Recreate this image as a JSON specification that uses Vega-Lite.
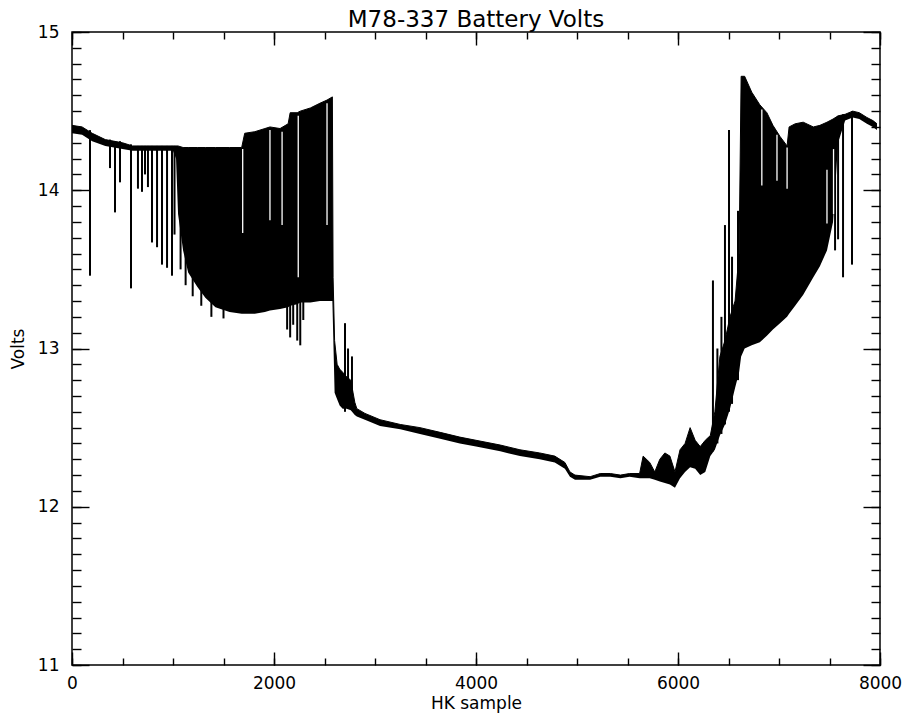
{
  "$schema": "https://vega.github.io/schema/vega-lite/v6.json",
  "width": 808,
  "height": 633,
  "autosize": {"type": "none"},
  "padding": {"left": 72, "top": 32, "right": 34, "bottom": 53},
  "background": "white",
  "title": {"text": "M78-337 Battery Volts", "font": "DejaVu Sans", "fontSize": 23, "fontWeight": "normal", "color": "black", "offset": -9, "anchor": "middle"},
  "config": {
    "view": {"stroke": "black", "strokeWidth": 1.5},
    "axis": {"grid": false, "domain": false, "tickColor": "black", "tickWidth": 1.4, "labelColor": "black", "titleColor": "black", "labelFont": "DejaVu Sans", "titleFont": "DejaVu Sans", "labelFontSize": 17, "titleFontSize": 17, "titleFontWeight": "normal", "labelOverlap": false, "labelFlush": false}
  },
  "datasets": {
    "env": [
      {"x": 0, "hi": 14.41, "lo": 14.36},
      {"x": 100, "hi": 14.40, "lo": 14.35},
      {"x": 200, "hi": 14.36, "lo": 14.31},
      {"x": 330, "hi": 14.32, "lo": 14.28},
      {"x": 500, "hi": 14.30, "lo": 14.26},
      {"x": 600, "hi": 14.28, "lo": 14.25},
      {"x": 1000, "hi": 14.28, "lo": 14.25},
      {"x": 1030, "hi": 14.28, "lo": 14.20},
      {"x": 1050, "hi": 14.28, "lo": 13.85},
      {"x": 1100, "hi": 14.27, "lo": 13.62},
      {"x": 1150, "hi": 14.27, "lo": 13.48},
      {"x": 1240, "hi": 14.27, "lo": 13.39},
      {"x": 1320, "hi": 14.27, "lo": 13.32},
      {"x": 1420, "hi": 14.27, "lo": 13.26},
      {"x": 1560, "hi": 14.27, "lo": 13.23},
      {"x": 1680, "hi": 14.27, "lo": 13.22},
      {"x": 1710, "hi": 14.36, "lo": 13.22},
      {"x": 1810, "hi": 14.37, "lo": 13.22},
      {"x": 1910, "hi": 14.39, "lo": 13.23},
      {"x": 1960, "hi": 14.40, "lo": 13.24},
      {"x": 2060, "hi": 14.39, "lo": 13.25},
      {"x": 2140, "hi": 14.42, "lo": 13.26},
      {"x": 2160, "hi": 14.49, "lo": 13.27},
      {"x": 2230, "hi": 14.49, "lo": 13.28},
      {"x": 2260, "hi": 14.50, "lo": 13.29},
      {"x": 2360, "hi": 14.52, "lo": 13.29},
      {"x": 2455, "hi": 14.55, "lo": 13.30},
      {"x": 2525, "hi": 14.57, "lo": 13.30},
      {"x": 2578, "hi": 14.59, "lo": 13.30},
      {"x": 2585, "hi": 13.45, "lo": 13.12},
      {"x": 2600, "hi": 13.05, "lo": 12.72},
      {"x": 2625, "hi": 12.90, "lo": 12.68},
      {"x": 2650, "hi": 12.87, "lo": 12.64},
      {"x": 2680, "hi": 12.85, "lo": 12.62},
      {"x": 2720, "hi": 12.82, "lo": 12.62},
      {"x": 2760, "hi": 12.80, "lo": 12.61},
      {"x": 2800, "hi": 12.66, "lo": 12.58},
      {"x": 2820, "hi": 12.62, "lo": 12.57},
      {"x": 2900, "hi": 12.59, "lo": 12.55},
      {"x": 3050, "hi": 12.55, "lo": 12.51},
      {"x": 3250, "hi": 12.52, "lo": 12.49},
      {"x": 3445, "hi": 12.50, "lo": 12.46},
      {"x": 3645, "hi": 12.47, "lo": 12.43},
      {"x": 3840, "hi": 12.44, "lo": 12.40},
      {"x": 4000, "hi": 12.42, "lo": 12.38},
      {"x": 4240, "hi": 12.39, "lo": 12.35},
      {"x": 4435, "hi": 12.36, "lo": 12.32},
      {"x": 4630, "hi": 12.34, "lo": 12.30},
      {"x": 4780, "hi": 12.32, "lo": 12.28},
      {"x": 4880, "hi": 12.28, "lo": 12.24},
      {"x": 4930, "hi": 12.22, "lo": 12.19},
      {"x": 4980, "hi": 12.20, "lo": 12.17},
      {"x": 5130, "hi": 12.19, "lo": 12.17},
      {"x": 5230, "hi": 12.21, "lo": 12.19},
      {"x": 5330, "hi": 12.21, "lo": 12.19},
      {"x": 5430, "hi": 12.20, "lo": 12.18},
      {"x": 5520, "hi": 12.21, "lo": 12.19},
      {"x": 5620, "hi": 12.21, "lo": 12.18},
      {"x": 5655, "hi": 12.32, "lo": 12.18},
      {"x": 5720, "hi": 12.28, "lo": 12.18},
      {"x": 5770, "hi": 12.22, "lo": 12.17},
      {"x": 5820, "hi": 12.30, "lo": 12.16},
      {"x": 5870, "hi": 12.34, "lo": 12.15},
      {"x": 5920, "hi": 12.32, "lo": 12.14},
      {"x": 5970, "hi": 12.22, "lo": 12.12},
      {"x": 6020, "hi": 12.36, "lo": 12.18},
      {"x": 6070, "hi": 12.40, "lo": 12.22},
      {"x": 6120, "hi": 12.50, "lo": 12.25},
      {"x": 6170, "hi": 12.42, "lo": 12.24},
      {"x": 6220, "hi": 12.38, "lo": 12.20},
      {"x": 6270, "hi": 12.42, "lo": 12.22},
      {"x": 6320, "hi": 12.45, "lo": 12.32},
      {"x": 6365, "hi": 12.60, "lo": 12.36},
      {"x": 6415, "hi": 12.95, "lo": 12.45},
      {"x": 6465, "hi": 13.05, "lo": 12.52},
      {"x": 6515, "hi": 13.20, "lo": 12.62},
      {"x": 6565, "hi": 13.30, "lo": 12.75},
      {"x": 6605, "hi": 13.60, "lo": 12.85},
      {"x": 6625, "hi": 14.72, "lo": 12.95},
      {"x": 6660, "hi": 14.72, "lo": 13.00},
      {"x": 6730, "hi": 14.62, "lo": 13.02},
      {"x": 6810, "hi": 14.54, "lo": 13.04},
      {"x": 6880, "hi": 14.49, "lo": 13.08},
      {"x": 6940, "hi": 14.41, "lo": 13.12},
      {"x": 7010, "hi": 14.34, "lo": 13.16},
      {"x": 7080, "hi": 14.28, "lo": 13.20},
      {"x": 7100, "hi": 14.40, "lo": 13.22},
      {"x": 7160, "hi": 14.42, "lo": 13.27},
      {"x": 7240, "hi": 14.43, "lo": 13.34},
      {"x": 7340, "hi": 14.40, "lo": 13.45},
      {"x": 7405, "hi": 14.41, "lo": 13.52},
      {"x": 7475, "hi": 14.43, "lo": 13.62},
      {"x": 7535, "hi": 14.45, "lo": 13.80},
      {"x": 7585, "hi": 14.47, "lo": 14.30},
      {"x": 7655, "hi": 14.48, "lo": 14.44},
      {"x": 7730, "hi": 14.50, "lo": 14.46},
      {"x": 7795, "hi": 14.49, "lo": 14.45},
      {"x": 7870, "hi": 14.46, "lo": 14.42},
      {"x": 7930, "hi": 14.44, "lo": 14.40},
      {"x": 7970, "hi": 14.42, "lo": 14.38}
    ],
    "spikes": [
      {"x": 178, "hi": 14.38, "lo": 13.46},
      {"x": 376, "hi": 14.32, "lo": 14.14},
      {"x": 426, "hi": 14.31, "lo": 13.86},
      {"x": 475, "hi": 14.31, "lo": 14.05},
      {"x": 584, "hi": 14.29, "lo": 13.38},
      {"x": 653, "hi": 14.28, "lo": 14.01},
      {"x": 693, "hi": 14.28, "lo": 13.99},
      {"x": 723, "hi": 14.28, "lo": 14.10},
      {"x": 752, "hi": 14.28, "lo": 14.02},
      {"x": 792, "hi": 14.28, "lo": 13.67},
      {"x": 842, "hi": 14.28, "lo": 13.64},
      {"x": 891, "hi": 14.28, "lo": 13.53},
      {"x": 941, "hi": 14.28, "lo": 13.51},
      {"x": 990, "hi": 14.28, "lo": 13.46},
      {"x": 1015, "hi": 14.28, "lo": 13.72},
      {"x": 1075, "hi": 14.27, "lo": 13.50},
      {"x": 1125, "hi": 14.27, "lo": 13.40},
      {"x": 1195, "hi": 14.27, "lo": 13.33},
      {"x": 1280, "hi": 14.27, "lo": 13.27},
      {"x": 1380, "hi": 14.27, "lo": 13.20},
      {"x": 1500, "hi": 14.27, "lo": 13.19},
      {"x": 2130, "hi": 13.30, "lo": 13.12},
      {"x": 2160, "hi": 13.30, "lo": 13.07},
      {"x": 2190, "hi": 13.30, "lo": 13.15},
      {"x": 2230, "hi": 13.30, "lo": 13.05},
      {"x": 2260, "hi": 13.30, "lo": 13.02},
      {"x": 2290, "hi": 13.30, "lo": 13.18},
      {"x": 2703, "hi": 13.16, "lo": 12.60},
      {"x": 2733, "hi": 13.00, "lo": 12.65},
      {"x": 2772, "hi": 12.95, "lo": 12.62},
      {"x": 6346, "hi": 13.43, "lo": 12.35},
      {"x": 6390, "hi": 13.00, "lo": 12.40},
      {"x": 6430, "hi": 13.20, "lo": 12.46},
      {"x": 6465, "hi": 13.78, "lo": 12.52},
      {"x": 6505, "hi": 14.38, "lo": 12.60},
      {"x": 6535, "hi": 13.58, "lo": 12.65},
      {"x": 6594, "hi": 13.87, "lo": 12.80},
      {"x": 7555, "hi": 14.45, "lo": 13.62},
      {"x": 7585, "hi": 14.47, "lo": 13.69},
      {"x": 7634, "hi": 14.48, "lo": 13.45},
      {"x": 7723, "hi": 14.50, "lo": 13.53}
    ],
    "gaps": [
      {"x": 1690, "hi": 14.26, "lo": 13.73},
      {"x": 1960, "hi": 14.38, "lo": 13.81},
      {"x": 2080, "hi": 14.37, "lo": 13.78},
      {"x": 2240, "hi": 14.47, "lo": 13.45},
      {"x": 2525, "hi": 14.55, "lo": 13.78},
      {"x": 6830, "hi": 14.51, "lo": 14.03},
      {"x": 6980, "hi": 14.35, "lo": 14.06},
      {"x": 7080, "hi": 14.27, "lo": 14.01},
      {"x": 7475, "hi": 14.13, "lo": 13.79},
      {"x": 7540, "hi": 14.26, "lo": 13.85}
    ]
  },
  "layer": [
    {
      "data": {"name": "env"},
      "mark": {"type": "area", "color": "black", "interpolate": "linear"},
      "encoding": {
        "x": {"field": "x", "type": "quantitative", "scale": {"domain": [0, 8000], "nice": false},
          "axis": {"orient": "bottom", "values": [0, 2000, 4000, 6000, 8000], "format": "d", "tickSize": -13, "labelPadding": 23, "title": "HK sample", "titlePadding": 4}},
        "y": {"field": "hi", "type": "quantitative", "scale": {"domain": [11, 15], "nice": false, "zero": false},
          "axis": {"orient": "left", "values": [11, 12, 13, 14, 15], "format": "d", "tickSize": -17, "labelPadding": 30, "title": "Volts", "titlePadding": 10}},
        "y2": {"field": "lo"}
      }
    },
    {
      "data": {"name": "spikes"},
      "mark": {"type": "rule", "color": "black", "strokeWidth": 2},
      "encoding": {
        "x": {"field": "x", "type": "quantitative",
          "axis": {"orient": "bottom", "values": [0, 500, 1000, 1500, 2000, 2500, 3000, 3500, 4000, 4500, 5000, 5500, 6000, 6500, 7000, 7500, 8000], "tickSize": -7, "labels": false, "title": null}},
        "y": {"field": "hi", "type": "quantitative",
          "axis": {"orient": "left", "values": [11, 11.1, 11.2, 11.3, 11.4, 11.5, 11.6, 11.7, 11.8, 11.9, 12, 12.1, 12.2, 12.3, 12.4, 12.5, 12.6, 12.7, 12.8, 12.9, 13, 13.1, 13.2, 13.3, 13.4, 13.5, 13.6, 13.7, 13.8, 13.9, 14, 14.1, 14.2, 14.3, 14.4, 14.5, 14.6, 14.7, 14.8, 14.9, 15], "tickSize": -9, "labels": false, "title": null}},
        "y2": {"field": "lo"}
      }
    },
    {
      "data": {"name": "gaps"},
      "mark": {"type": "rule", "color": "white", "strokeWidth": 1.3},
      "encoding": {
        "x": {"field": "x", "type": "quantitative",
          "axis": {"orient": "top", "values": [0, 2000, 4000, 6000, 8000], "tickSize": -13, "labels": false, "title": null}},
        "y": {"field": "hi", "type": "quantitative",
          "axis": {"orient": "right", "values": [11, 12, 13, 14, 15], "tickSize": -17, "labels": false, "title": null}},
        "y2": {"field": "lo"}
      }
    },
    {
      "data": {"name": "env"},
      "mark": {"type": "line", "color": "black", "strokeWidth": 1},
      "encoding": {
        "x": {"field": "x", "type": "quantitative",
          "axis": {"orient": "top", "values": [0, 500, 1000, 1500, 2000, 2500, 3000, 3500, 4000, 4500, 5000, 5500, 6000, 6500, 7000, 7500, 8000], "tickSize": -7, "labels": false, "title": null}},
        "y": {"field": "hi", "type": "quantitative",
          "axis": {"orient": "right", "values": [11, 11.1, 11.2, 11.3, 11.4, 11.5, 11.6, 11.7, 11.8, 11.9, 12, 12.1, 12.2, 12.3, 12.4, 12.5, 12.6, 12.7, 12.8, 12.9, 13, 13.1, 13.2, 13.3, 13.4, 13.5, 13.6, 13.7, 13.8, 13.9, 14, 14.1, 14.2, 14.3, 14.4, 14.5, 14.6, 14.7, 14.8, 14.9, 15], "tickSize": -9, "labels": false, "title": null}}
      }
    }
  ],
  "resolve": {"axis": {"x": "independent", "y": "independent"}}
}
